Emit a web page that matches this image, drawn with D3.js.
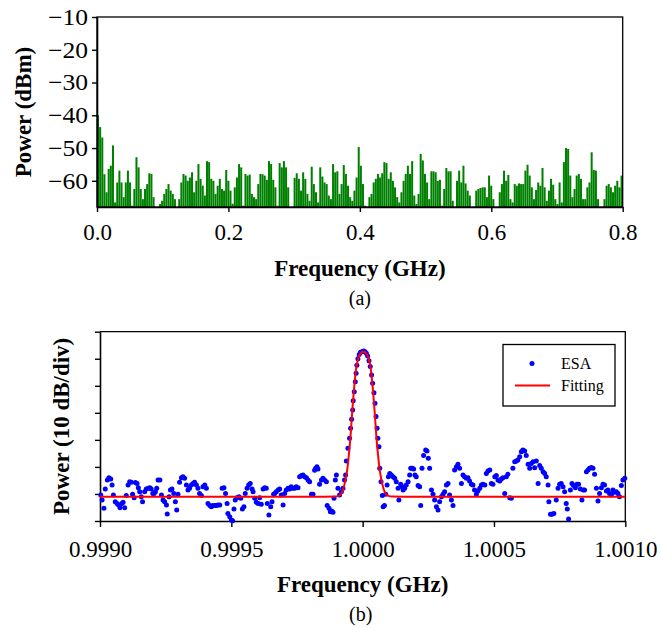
<!DOCTYPE html>
<html>
<head>
<meta charset="utf-8">
<script src="https://cdn.jsdelivr.net/npm/d3@7/dist/d3.min.js"></script>
<style>
  body { margin: 0; background: #fff; }
  svg text { font-family: "Liberation Serif", "Times New Roman", Times, serif; fill: #000; }
</style>
</head>
<body>
<svg id="chart" width="661" height="628"></svg>
<script>
// ---------- (a) baseband RF spectrum, 0 – 0.8 GHz ----------
// Power per frequency bin (dBm), in order from 0 GHz upward; null = below the -68 dBm floor.
const spectrumLow = [
  -40, -43.6, -46.8, -58, -63.5, -56.4, -55.4, -49.2, -66.6, -60.5,
  -56.9, -60.5, -65, -60.5, -56.9, -60.5, -67.6, -62.5, -52.8, -55.9,
  -62.5, -65.6, -62.5, -61, -57.7, -57.9, -65, null, null, -67.1,
  -66.1, -64, -62.5, -61, -63, -64, -65.6, null, -65.6, -60.5,
  -57.9, -58.4, -60, -59, -57.4, -63.5, -60, -54.9, -59.4, -61.5,
  -64.5, -54, -54.3, -59.4, -60, -64, -61.5, -59.4, -62.5, -63,
  -56.7, -60, -63, -67, -62, -59, -54.9, -55.9, -67.6, -57.9,
  -58.4, -58.1, -64, -65, -65.6, -61, -57.9, -58
];
const spectrumMid = [
  -58.4, -59.7, -54, -54.9, -59.7, -62, -67.6, -54.6, -55.9, -54,
  -55.9, -62, null, null, -59.1, -57.7, -59.4, -63, -57.4, -59.4,
  -64, -66.1, -55.7, -61, -63.5, -66.6, -55.9, -58.7, -60.5, -61,
  -64.5, -65.6, -54.9, -57.4, -57.1, -64, -61, -55.2, -57.9, -61.5,
  -65, -66.1, -63, -59, -49.7, -55.4, -61, -67.6, null, -65,
  -64, -60.5, -59.4, -57.9, -59, -57.7, -54.3, -54.6, -59.4, -57.4,
  -60, -62, -65, -66.6, -63.5, -60, -57.9, -55.4, -57.9, -54,
  -64.5, -67.1, -64, -51.8, -53.8, -57.9, -60.5, -65.6, -57.1, -57.1,
  -57.4, -60
];
const spectrumHigh = [
  -59.7, -67.6, -62.5, -56.1, -57.1, -57.1, -66.1, null, -60, -56.9,
  -60.5, -55.4, -60.8, -63, -64.5, null, null, -63, -62.5, -62.2,
  -62, -62, -65, -58.4, -61.5, -65.6, null, null, -63.5, -61,
  -56.9, -60, -58.2, -65.6, -66.6, -61, -61.5, -60.8, -61, -61,
  -56.9, -55.1, -58.4, -62, -65.6, -62.8, -60.5, -61.5, -56.1, -62,
  -66.1, -63, -59.4, -61.2, -65.6, -67.1, -60.5, -66.6, -54.3, -50,
  -50.3, -58.4, -65, -62.5, -58.4, -57.9, -59.4, -65.6, -65.6, -62,
  -60.5, -51.3, -56.7, -56.9, -65.6, null, null, -65.6, -61.5, -61,
  -62, -63.5, -61.5, -60, -62, -58.4
];
const spanA = [0, 0.8];            // GHz
const floorA = -68;                // dBm, bottom of the plot
const yTicksA = [-10, -20, -30, -40, -50, -60];
const xTicksA = [0, 0.2, 0.4, 0.6, 0.8];

// ---------- (b) zoom on the 1 GHz tone ----------
// ESA trace: [offset from 1 GHz in kHz, power in dB on a 10 dB/div scale]
const esaPoints = [
  [-997,9.6],[-992,7.8],[-985,4.7],[-980,11.8],[-972,15.2],[-966,16.0],[-959,15.5],[-954,13.3],[-949,9.6],[-942,7.1],
  [-935,6.5],[-929,5.9],[-924,4.9],[-917,6.5],[-912,6.9],[-906,4.9],[-900,9.4],[-893,13.3],[-887,14.5],[-881,14.3],
  [-876,9.9],[-870,8.6],[-865,14.2],[-859,13.9],[-854,12.3],[-849,10.8],[-843,9.0],[-838,7.1],[-830,10.8],[-824,11.8],
  [-817,12.1],[-810,12.3],[-805,11.8],[-799,10.2],[-794,10.2],[-789,10.8],[-784,12.1],[-779,15.2],[-772,15.2],[-766,9.6],
  [-760,7.8],[-754,7.1],[-747,5.9],[-744,2.6],[-737,9.0],[-732,11.5],[-726,11.8],[-719,10.2],[-713,7.1],[-708,4.1],
  [-703,9.9],[-697,14.3],[-690,16.0],[-684,16.4],[-678,15.8],[-671,13.3],[-665,11.5],[-659,12.1],[-652,13.3],[-646,13.9],
  [-640,14.3],[-633,13.3],[-627,12.1],[-621,10.2],[-614,9.4],[-608,12.7],[-601,13.3],[-595,12.1],[-589,6.5],[-582,5.7],
  [-576,5.3],[-570,5.7],[-563,5.7],[-557,5.7],[-551,5.9],[-544,5.9],[-535,12.1],[-528,12.3],[-522,10.2],[-516,6.5],
  [-513,2.8],[-506,1.6],[-500,0.4],[-495,0.1],[-490,4.4],[-485,7.8],[-477,8.7],[-471,9.0],[-464,8.4],[-458,4.4],
  [-452,5.3],[-447,10.2],[-440,12.1],[-434,13.3],[-428,13.9],[-421,11.8],[-417,10.8],[-411,8.4],[-405,6.9],[-398,6.5],
  [-392,8.6],[-386,6.2],[-379,11.8],[-373,12.3],[-367,12.1],[-363,6.5],[-357,2.2],[-350,5.3],[-345,7.1],[-339,9.9],
  [-335,10.2],
  [-329,10.8],[-322,11.5],[-316,11.8],[-310,9.6],[-303,5.9],[-297,10.2],[-291,11.5],[-284,12.1],[-278,11.8],[-272,12.7],
  [-265,12.1],[-259,12.1],[-253,12.7],[-246,12.3],[-240,16.4],[-233,16.8],[-227,17.0],[-221,16.4],[-214,16.0],[-208,15.2],
  [-202,14.5],[-195,9.9],[-189,9.9],[-183,18.8],[-179,19.5],[-174,20.1],[-170,19.2],[-164,13.6],[-157,15.2],[-151,15.8],
  [-145,15.2],[-138,14.5],[-135,5.7],[-128,4.7],[-123,3.4],[-118,3.7],[-113,3.2],[-109,8.4],[-104,15.2],[-100,17.0],
  [-94,12.1],[-88,9.6],[-81,10.8],[-75,12.1],[-69,15.2],[-65,17.0],
  [-62,22.2],[-56,26.9],[-50,30.6],[-46,34.3],[-42,37.6],[-38,41.0],[-36,44.5],[-32,47.8],[-28,51.5],[-25,54.6],
  [-22,57.6],[-18,60.0],[-13,61.6],[-8,62.4],[-1,62.7],[4,62.9],[9,62.6],[14,62.0],[19,61.0],[24,59.3],
  [29,57.1],[34,54.0],[38,50.9],[43,47.4],[47,43.5],[51,38.6],[55,34.3],[58,30.6],[62,27.5],[65,19.5],
  [70,14.5],[75,9.4],[78,5.3],[83,5.7],[88,9.9],[93,13.3],[98,16.4],[103,17.6],[109,17.0],[116,16.4],
  [122,15.8],[128,14.5],[135,12.1],[138,7.8],[145,13.6],[151,12.7],[154,11.5],[160,12.1],[166,13.3],[173,14.5],
  [179,17.0],[183,19.5],[189,19.5],[194,19.2],[199,17.0],[204,16.4],[211,13.1],[217,12.7],[221,5.7],[226,19.5],
  [232,24.2],[240,26.3],[245,25.9],[250,23.2],[255,19.5],[262,11.5],[268,9.9],[274,7.8],[281,5.3],[287,4.1],
  [293,7.1],[300,9.0],[306,9.9],[312,10.8],[319,13.3],[325,13.9],
  [331,9.6],[338,7.8],[344,5.7],[350,18.9],[357,20.1],[363,21.0],[369,19.5],[376,13.9],[382,17.0],[388,16.4],
  [395,15.8],[401,16.0],[407,14.8],[414,13.6],[420,13.3],[426,11.5],[433,9.9],[439,11.1],[446,12.1],[452,13.3],
  [458,13.6],[465,13.3],[471,17.6],[477,18.5],[484,18.9],[490,13.9],[496,13.6],[503,16.4],[509,16.8],[515,15.2],
  [522,14.8],[528,15.5],[534,16.0],[541,10.2],[547,16.4],[553,17.3],[560,8.6],[566,8.4],[572,19.5],[579,21.9],
  [585,22.2],[591,22.6],[598,23.8],[604,25.6],[610,26.3],[617,25.9],[623,24.2],[630,21.0],[636,19.5],[642,21.3],
  [649,21.9],[655,19.7],[661,22.2],[668,13.9],[674,20.5],[680,19.5],[687,18.2],[693,17.6],[699,16.4],[706,13.3],
  [709,7.1],[715,2.5],[721,2.5],[728,2.8],[737,7.8],[744,12.1],[750,13.6],[756,13.9],[763,12.7],[769,10.8],
  [775,6.5],[779,4.4],[784,0.7],[791,11.5],[797,13.9],[803,13.1],[810,12.3],[816,13.6],[822,13.6],[829,11.8],
  [835,7.8],[840,11.5],[845,11.5],[852,18.2],[858,18.9],[864,19.5],[871,19.8],[877,19.5],[883,17.3],[890,12.1],
  [896,7.4],[902,10.2],[909,12.3],[915,13.6],[921,13.3],[928,11.1],[934,11.5],[940,10.2],[947,9.6],[953,11.5],
  [959,10.6],[966,10.8],[972,10.2],[978,9.0],[985,13.1],[991,15.2],[998,15.8]
];
// Fitted line shape, sampled: offset (kHz) and power (dB)
const fitKHz   = [-1000, -147, -107, -92, -82, -73, -65, -58, -52, -46, -40, -32, -25, -17, -7, -2, 3,
                   8, 13, 23, 31, 38, 46, 52, 58, 64, 71, 79, 88, 98, 113, 153, 1000];
const fitPower = [9.0, 9.0, 9.05, 9.3, 10.0, 12.1, 15.5, 19.5, 25.0, 31.5, 40.0, 49.7, 56.2, 60.0, 62.1, 62.5, 62.6,
                  62.5, 62.1, 60.0, 56.2, 49.7, 40.0, 31.5, 25.0, 19.5, 15.5, 12.1, 10.0, 9.3, 9.05, 9.0, 9.0];
const centerB = 1.0;               // GHz
const spanB = [0.999, 1.001];      // GHz
const rangeB = [0, 70];            // dB, 10 dB per division
const xTicksB = [0.999, 0.9995, 1.0, 1.0005, 1.001];
const legendLabels = ["ESA", "Fitting"];

// ---------- drawing ----------
const svg = d3.select("#chart");
const GREEN = "#008000", BLUE = "#0000ff", RED = "#ff0000";
const SERIF = "'Liberation Serif','Times New Roman',serif";

function styleAxis(g) {
  g.attr("font-family", SERIF);
  g.selectAll(".domain").attr("stroke", "#000").attr("stroke-width", 1.6);
  g.selectAll(".tick line").attr("stroke", "#000").attr("stroke-width", 1.4);
  g.selectAll(".tick text").style("font-size", "23px").style("font-family", SERIF);
}

// Panel (a)
{
  const L = 97, R = 622.7, T = 17, B = 207;
  const x = d3.scaleLinear().domain(spanA).range([L, R]);
  const y = d3.scaleLinear().domain([floorA, -10]).range([B, T]);
  const bins = spectrumLow.concat(spectrumMid, spectrumHigh);
  const step = (spanA[1] - spanA[0]) / bins.length;
  const data = bins.map((v, i) => ({ f: spanA[0] + i * step, v }));

  svg.append("g").selectAll("rect")
    .data(data.filter(d => d.v !== null))
    .join("rect")
    .attr("x", d => x(d.f))
    .attr("width", d => Math.max(0.5, x(d.f + step) - x(d.f) - 0.12))
    .attr("y", d => y(d.v))
    .attr("height", d => y(floorA) - y(d.v))
    .attr("fill", GREEN);

  // frame
  svg.append("rect").attr("x", L).attr("y", T).attr("width", R - L).attr("height", B - T)
    .attr("fill", "none").attr("stroke", "#000").attr("stroke-width", 1.3);

  svg.append("g").attr("transform", `translate(0,${B})`)
    .call(d3.axisBottom(x).tickValues(xTicksA).tickFormat(d3.format(".1f")).tickSize(5).tickSizeOuter(0).tickPadding(12))
    .call(styleAxis);
  svg.append("g").attr("transform", `translate(${L},0)`)
    .call(d3.axisLeft(y).tickValues(yTicksA).tickFormat(d3.format("d")).tickSize(5).tickSizeOuter(0).tickPadding(4))
    .call(styleAxis)
    .call(g => g.selectAll(".tick text").attr("textLength", 40).attr("lengthAdjust", "spacingAndGlyphs"));

  svg.append("text").attr("x", (L + R) / 2).attr("y", 276).attr("text-anchor", "middle")
    .style("font-size", "23px").style("font-weight", "bold").text("Frequency (GHz)");
  svg.append("text").attr("transform", `translate(31,${(T + B) / 2}) rotate(-90)`).attr("text-anchor", "middle")
    .style("font-size", "23px").style("font-weight", "bold").text("Power (dBm)");
  svg.append("text").attr("x", (L + R) / 2).attr("y", 305).attr("text-anchor", "middle")
    .style("font-size", "20px").text("(a)");
}

// Panel (b)
{
  const L = 100, R = 625.3, T = 331.7, B = 521;
  const x = d3.scaleLinear().domain(spanB).range([L, R]);
  const y = d3.scaleLinear().domain(rangeB).range([B, T]);
  const ghz = k => centerB + k * 1e-6;

  svg.append("g").attr("transform", `translate(0,${B})`)
    .call(d3.axisBottom(x).tickValues(xTicksB).tickFormat(d3.format(".4f")).tickSize(6).tickSizeOuter(0).tickPadding(14))
    .call(styleAxis);
  svg.append("g").attr("transform", `translate(${L},0)`)
    .call(d3.axisLeft(y).ticks(7).tickFormat("").tickSize(5).tickSizeOuter(0))
    .call(styleAxis);
  // top and right border
  svg.append("path").attr("d", `M${L},${T}H${R}V${B}`).attr("fill", "none")
    .attr("stroke", "#000").attr("stroke-width", 1.3);

  svg.append("g").selectAll("circle")
    .data(esaPoints)
    .join("circle")
    .attr("cx", d => x(ghz(d[0])))
    .attr("cy", d => y(d[1]))
    .attr("r", 2.5)
    .attr("fill", BLUE);

  const line = d3.line().x((d, i) => x(ghz(fitKHz[i]))).y(d => y(d)).curve(d3.curveMonotoneX);
  svg.append("path").attr("d", line(fitPower)).attr("fill", "none")
    .attr("stroke", RED).attr("stroke-width", 2);

  // legend
  const lg = svg.append("g");
  lg.append("rect").attr("x", 503).attr("y", 344.5).attr("width", 112).attr("height", 61.5)
    .attr("fill", "#fff").attr("stroke", "#000").attr("stroke-width", 1.3);
  lg.append("circle").attr("cx", 532).attr("cy", 363.5).attr("r", 2.5).attr("fill", BLUE);
  lg.append("line").attr("x1", 515).attr("x2", 550).attr("y1", 385.5).attr("y2", 385.5)
    .attr("stroke", RED).attr("stroke-width", 2);
  lg.selectAll("text.lab").data(legendLabels).join("text").attr("class", "lab")
    .attr("x", 561).attr("y", (d, i) => 369 + i * 22)
    .style("font-size", "16px").text(d => d);

  svg.append("text").attr("x", (L + R) / 2).attr("y", 592).attr("text-anchor", "middle")
    .style("font-size", "23px").style("font-weight", "bold").text("Frequency (GHz)");
  svg.append("text").attr("transform", `translate(69,${(T + B) / 2}) rotate(-90)`).attr("text-anchor", "middle")
    .style("font-size", "23px").style("font-weight", "bold").text("Power (10 dB/div)");
  svg.append("text").attr("x", (L + R) / 2 - 2).attr("y", 621).attr("text-anchor", "middle")
    .style("font-size", "20px").text("(b)");
}
</script>
</body>
</html>
